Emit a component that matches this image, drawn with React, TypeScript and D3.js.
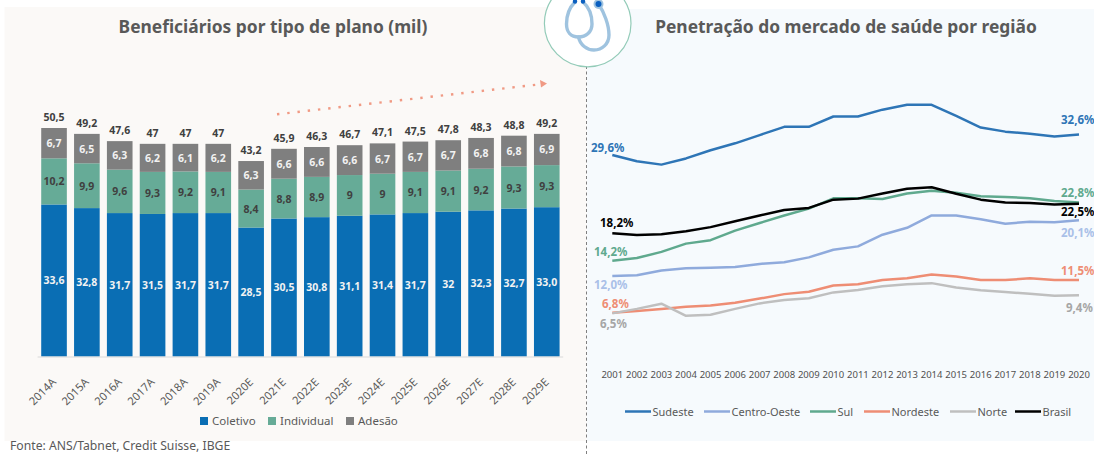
import React from "react";
import * as d3 from "d3";

const planYears = ["2014A","2015A","2016A","2017A","2018A","2019A","2020E","2021E","2022E","2023E","2024E","2025E","2026E","2027E","2028E","2029E"];
const coletivo = [33.6,32.8,31.7,31.5,31.7,31.7,28.5,30.5,30.8,31.1,31.4,31.7,32,32.3,32.7,33.0];
const individual = [10.2,9.9,9.6,9.3,9.2,9.1,8.4,8.8,8.9,9,9,9.1,9.1,9.2,9.3,9.3];
const adesao = [6.7,6.5,6.3,6.2,6.1,6.2,6.3,6.6,6.6,6.6,6.7,6.7,6.7,6.8,6.8,6.9];
const totals = [50.5,49.2,47.6,47,47,47,43.2,45.9,46.3,46.7,47.1,47.5,47.8,48.3,48.8,49.2];
const coletivoLabels = ["33,6","32,8","31,7","31,5","31,7","31,7","28,5","30,5","30,8","31,1","31,4","31,7","32","32,3","32,7","33,0"];

const lineYears = d3.range(2001, 2021);
const sudeste = [29.6,28.7,28.2,29.1,30.3,31.3,32.5,33.7,33.7,35.2,35.2,36.2,36.9,36.9,35.3,33.6,33.0,32.7,32.3,32.6];
const centroOeste = [12.0,12.1,12.8,13.1,13.2,13.3,13.75,14.0,14.7,15.8,16.3,18.0,19.0,20.8,20.8,20.25,19.6,19.9,19.8,20.1];
const sul = [14.2,14.6,15.5,16.7,17.2,18.6,19.7,20.8,21.8,23.3,23.3,23.2,24.0,24.4,24.1,23.6,23.5,23.3,22.9,22.7];
const nordeste = [6.65,6.9,7.2,7.5,7.7,8.1,8.7,9.35,9.7,10.6,10.8,11.4,11.65,12.2,11.9,11.4,11.4,11.65,11.4,11.4];
const norte = [6.55,7.2,7.95,6.2,6.35,7.2,8.0,8.5,8.75,9.6,9.95,10.5,10.8,10.95,10.3,9.9,9.65,9.4,9.1,9.2];
const brasil = [18.2,17.97,18.05,18.5,19.1,19.95,20.8,21.6,21.9,23.1,23.25,24.0,24.7,24.9,23.95,23.1,22.7,22.6,22.4,22.5];

const FONT = "'Noto Sans', sans-serif";
const planKeys = ["coletivo", "individual", "adesao"];
const planNames = ["Coletivo", "Individual", "Adesão"];
const planColors = ["#0a6eb4", "#66ab97", "#7f7f7f"];
const planTable = planYears.map((y, i) => ({ y, coletivo: coletivo[i], individual: individual[i], adesao: adesao[i] }));
const fmt = (v: number) => String(v).replace(".", ",");

const regions = [
  { name: "Sudeste", values: sudeste, color: "#2e75b6", width: 2.5 },
  { name: "Centro-Oeste", values: centroOeste, color: "#8faadc", width: 2.5 },
  { name: "Sul", values: sul, color: "#5fa98e", width: 2.5 },
  { name: "Nordeste", values: nordeste, color: "#ee8d74", width: 2.5 },
  { name: "Norte", values: norte, color: "#bfbfbf", width: 2.5 },
  { name: "Brasil", values: brasil, color: "#000000", width: 2.5 },
];
const legendLineX = [625, 704, 810, 864, 950, 1015];

const endLabels = [
  { t: "29,6%", x: 591, y: 148, c: "#2e75b6" },
  { t: "18,2%", x: 600, y: 223, c: "#000000" },
  { t: "14,2%", x: 594, y: 252, c: "#5fa98e" },
  { t: "12,0%", x: 594, y: 285, c: "#a9c0e8" },
  { t: "6,8%", x: 602, y: 304, c: "#ee8d74" },
  { t: "6,5%", x: 600, y: 324, c: "#a6a6a6" },
  { t: "32,6%", x: 1061, y: 120, c: "#2e75b6" },
  { t: "22,8%", x: 1061, y: 193, c: "#5fa98e" },
  { t: "22,5%", x: 1061, y: 212, c: "#000000" },
  { t: "20,1%", x: 1061, y: 233, c: "#a9c0e8" },
  { t: "11,5%", x: 1061, y: 271, c: "#ee8d74" },
  { t: "9,4%", x: 1066, y: 308, c: "#a6a6a6" },
];

export default function App() {
  const x = d3.scaleBand<string>().domain(planYears).range([37.6, 563.2]).paddingInner(0.22).paddingOuter(0.11);
  const y = d3.scaleLinear().domain([0, 50.5]).range([356.5, 128]);
  const stack = d3.stack<any>().keys(planKeys)(planTable);

  const lx = d3.scalePoint<number>().domain(lineYears).range([612.3, 1079]);
  const ly = d3.scaleLinear().domain([29.6, 6.5]).range([155, 313.7]);
  const line = d3.line<number>().x((_, i) => lx(lineYears[i])!).y((d) => ly(d)).curve(d3.curveLinear);

  return (
    <svg width={1094} height={454} style={{ position: "absolute", left: 0, top: 0, fontFamily: FONT }}>
      <rect width={1094} height={454} fill="#fff" />
      <rect x={4.5} y={7} width={582} height={434} fill="#fbf9f7" />
      <rect x={587} y={9} width={507} height={432} fill="#f6fafd" />
      <line x1={586.5} x2={586.5} y1={66} y2={454} stroke="#7f7f7f" strokeDasharray="3 2.5" strokeWidth={1} />

      <text x={273} y={33} textAnchor="middle" fontSize={17.4} fontWeight={700} fill="#595959">Beneficiários por tipo de plano (mil)</text>
      <text x={846} y={33} textAnchor="middle" fontSize={17.4} fontWeight={700} fill="#595959">Penetração do mercado de saúde por região</text>

      {/* icon */}
      <circle cx={587.7} cy={23.5} r={43.3} fill="#fff" stroke="#93cbb8" strokeWidth={1.2} />
      <g fill="none" stroke="#9fc3df" strokeWidth={3.4} strokeLinecap="round">
        <path d="M575,2 C569,8 566.5,16 566.5,24 C566.5,32 571,37 578.5,37 C586,37 592,32 592,24 C592,16 590,8 583,2" />
        <path d="M578.5,37 C580,45 587,50 594,50 C602,50 609,44 609,35 C609,25 604,12 598.5,4" />
      </g>
      <circle cx={575} cy={1.5} r={2.2} fill="#0a5fc0" />
      <circle cx={583} cy={1.5} r={2.2} fill="#0a5fc0" />
      <circle cx={598.5} cy={4} r={5} fill="#9fc3df" />
      <circle cx={598.5} cy={4} r={3} fill="#0a5fc0" />

      {/* stacked bars */}
      {stack.map((s, k) =>
        s.map((d, i) => {
          const yr = planYears[i];
          const top = y(d[1]);
          const bottom = y(d[0]);
          const label = k === 0 ? coletivoLabels[i] : fmt(+(d[1] - d[0]).toFixed(1));
          return (
            <g key={`${k}-${i}`}>
              <rect x={x(yr)} y={top} width={x.bandwidth()} height={bottom - top} fill={planColors[k]} />
              <text
                x={x(yr)! + x.bandwidth() / 2}
                y={(top + bottom) / 2 + 4}
                textAnchor="middle"
                fontSize={10.5}
                fontWeight={700}
                fill={k === 1 ? "#404040" : "#f2f2f2"}
              >
                {label}
              </text>
            </g>
          );
        })
      )}
      {planYears.map((yr, i) => (
        <text key={yr} x={x(yr)! + x.bandwidth() / 2} y={y(totals[i]) - 7} textAnchor="middle" fontSize={10.5} fontWeight={700} fill="#404040">
          {fmt(totals[i])}
        </text>
      ))}
      <line x1={37.6} x2={563.2} y1={357} y2={357} stroke="#d9d9d9" />
      {planYears.map((yr) => {
        const cx = x(yr)! + x.bandwidth() / 2;
        return (
          <text key={yr} transform={`translate(${cx},380) rotate(-45)`} textAnchor="end" dy="0.35em" fontSize={11.2} fill="#595959">
            {yr}
          </text>
        );
      })}

      {/* left legend */}
      {planNames.map((n, i) => {
        const sx = [200, 268, 346][i];
        return (
          <g key={n}>
            <rect x={sx} y={417} width={8} height={8} fill={planColors[i]} />
            <text x={sx + 12} y={425} fontSize={11.5} fill="#595959">{n}</text>
          </g>
        );
      })}

      <text x={10} y={450} fontSize={12.2} fill="#595959">Fonte: ANS/Tabnet, Credit Suisse, IBGE</text>

      {/* arrow */}
      <line x1={277} y1={114.3} x2={540} y2={84.3} stroke="#f09a84" strokeWidth={2.4} strokeDasharray="2.4 7.9" />
      <path d="M540,80 L547,83.5 L541,87.5 Z" fill="#f09a84" />

      {/* lines */}
      {regions.map((r) => (
        <path key={r.name} d={line(r.values)!} fill="none" stroke={r.color} strokeWidth={r.width} strokeLinejoin="round" />
      ))}
      {endLabels.map((l) => (
        <text key={l.t} x={l.x} y={l.y} dy="0.35em" fontSize={11.5} fontWeight={700} fill={l.c}>{l.t}</text>
      ))}
      {lineYears.map((yr) => (
        <text key={yr} x={lx(yr)} y={378} textAnchor="middle" fontSize={9.5} fill="#505050">{yr}</text>
      ))}

      {/* right legend */}
      {regions.map((r, i) => (
        <g key={r.name}>
          <line x1={legendLineX[i]} x2={legendLineX[i] + 26} y1={411.5} y2={411.5} stroke={r.color} strokeWidth={2.5} />
          <text x={legendLineX[i] + 27.5} y={415.5} fontSize={11} fill="#595959">{r.name}</text>
        </g>
      ))}
    </svg>
  );
}
